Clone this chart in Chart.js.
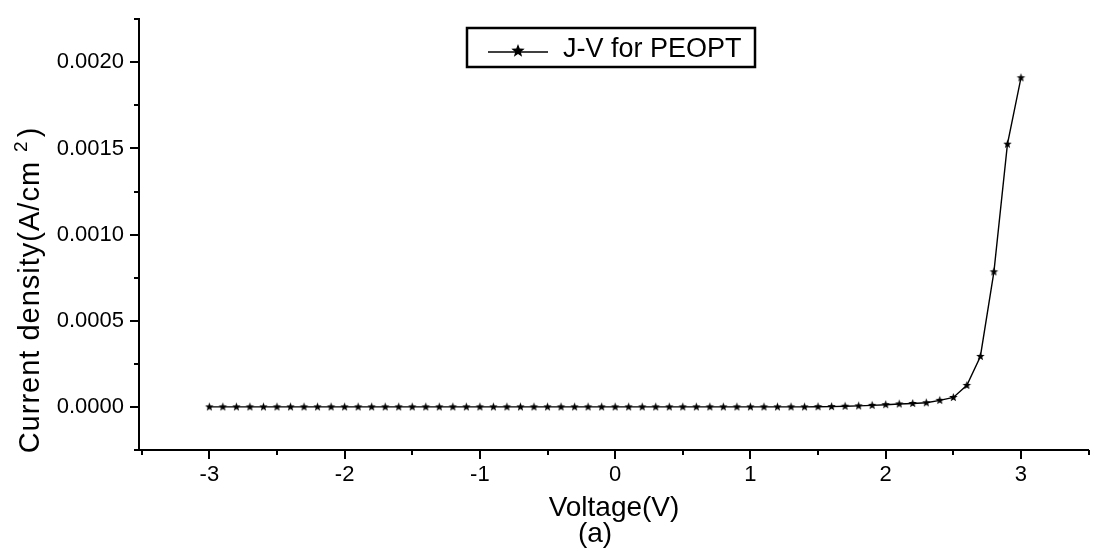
<!DOCTYPE html>
<html lang="en">
  <head>
    <meta charset="UTF-8" />
    <title>J-V for PEOPT</title>
    <script src="https://cdn.jsdelivr.net/npm/chart.js@4"></script>
    <style>
      html,
      body {
        margin: 0;
        padding: 0;
        background: #fff;
      }
      .chart-box {
        position: relative;
        width: 1094px;
        height: 553px;
      }
    </style>
  </head>
  <body>
    <div class="chart-box"><canvas id="jvChart"></canvas></div>
    <script>
      // voltage sweep (V)
      const voltage = [
        -3.0, -2.9, -2.8, -2.7, -2.6, -2.5, -2.4, -2.3, -2.2, -2.1,
        -2.0, -1.9, -1.8, -1.7, -1.6, -1.5, -1.4, -1.3, -1.2, -1.1,
        -1.0, -0.9, -0.8, -0.7, -0.6, -0.5, -0.4, -0.3, -0.2, -0.1,
        0.0, 0.1, 0.2, 0.3, 0.4, 0.5, 0.6, 0.7, 0.8, 0.9,
        1.0, 1.1, 1.2, 1.3, 1.4, 1.5, 1.6, 1.7, 1.8, 1.9,
        2.0, 2.1, 2.2, 2.3, 2.4, 2.5, 2.6, 2.7, 2.8, 2.9,
        3.0,
      ];
      // current density (A/cm^2)
      const current = [
        0, 0, 0, 0, 0, 0, 0, 0, 0, 0,
        0, 0, 0, 0, 0, 0, 0, 0, 0, 0,
        0, 0, 0, 0, 0, 0, 0, 0, 0, 0,
        0, 0, 0, 0, 0, 0, 0, 0, 0, 0,
        0, 0, 0, 0, 0, 0.000001, 0.000002, 0.000004, 0.000006, 0.000009,
        0.000013, 0.000017, 0.00002, 0.000024, 0.000038, 0.000055, 0.000125, 0.000293, 0.000784, 0.001525,
        0.00191,
      ];
      const xTicks = [-3, -2, -1, 0, 1, 2, 3];
      const xMinorTicks = [-3.5, -2.5, -1.5, -0.5, 0.5, 1.5, 2.5, 3.5];
      const yTicks = [0, 0.0005, 0.001, 0.0015, 0.002];
      const yMinorTicks = [-0.00025, 0.00025, 0.00075, 0.00125, 0.00175, 0.00225];

      const FONT = "'Liberation Sans', Arial, sans-serif";

      function makeStar(r) {
        const c = document.createElement("canvas");
        const size = Math.ceil(r * 2 + 2);
        c.width = size;
        c.height = size;
        const g = c.getContext("2d");
        g.translate(size / 2, size / 2);
        g.beginPath();
        for (let i = 0; i < 10; i++) {
          const rad = i % 2 === 0 ? r : r * 0.42;
          const a = -Math.PI / 2 + (i * Math.PI) / 5;
          g.lineTo(rad * Math.cos(a), rad * Math.sin(a));
        }
        g.closePath();
        g.fillStyle = "#000";
        g.fill();
        return c;
      }

      const pointStar = makeStar(4.5);
      const legendStar = makeStar(7);

      // ticks, titles and legend box
      const decorPlugin = {
        id: "decor",
        afterDraw(chart) {
          const ctx = chart.ctx;
          const area = chart.chartArea;
          const xs = chart.scales.x;
          const ys = chart.scales.y;
          ctx.save();
          ctx.strokeStyle = "#000";
          ctx.lineWidth = 2;
          ctx.beginPath();
          xTicks.forEach((v) => {
            const px = Math.round(xs.getPixelForValue(v));
            ctx.moveTo(px, area.bottom);
            ctx.lineTo(px, area.bottom + 9);
          });
          xMinorTicks.forEach((v) => {
            const px = Math.round(xs.getPixelForValue(v));
            ctx.moveTo(px, area.bottom);
            ctx.lineTo(px, area.bottom + 5);
          });
          yTicks.forEach((v) => {
            const py = Math.round(ys.getPixelForValue(v));
            ctx.moveTo(area.left, py);
            ctx.lineTo(area.left - 9, py);
          });
          yMinorTicks.forEach((v) => {
            const py = Math.round(ys.getPixelForValue(v));
            ctx.moveTo(area.left, py);
            ctx.lineTo(area.left - 5, py);
          });
          ctx.stroke();

          // axis titles
          ctx.fillStyle = "#000";
          ctx.textBaseline = "middle";
          ctx.textAlign = "center";
          ctx.font = "28px " + FONT;
          ctx.fillText("Voltage(V)", 614, 508);
          ctx.fillText("(a)", 595, 534);

          ctx.save();
          ctx.translate(29, 290);
          ctx.rotate(-Math.PI / 2);
          ctx.letterSpacing = "1px";
          ctx.textAlign = "left";
          ctx.textBaseline = "alphabetic";
          ctx.font = "29px " + FONT;
          const main = "Current density(A/cm ";
          const w1 = ctx.measureText(main).width;
          ctx.font = "19px " + FONT;
          const w2 = ctx.measureText("2").width + 3;
          ctx.font = "29px " + FONT;
          const w3 = ctx.measureText(")").width;
          const total = w1 + w2 + w3;
          const x0 = -total / 2;
          ctx.fillText(main, x0, 10);
          ctx.font = "19px " + FONT;
          ctx.fillText("2", x0 + w1, -2);
          ctx.font = "29px " + FONT;
          ctx.fillText(")", x0 + w1 + w2, 10);
          ctx.restore();

          // legend box
          ctx.fillStyle = "#fff";
          ctx.fillRect(467, 28, 288, 39);
          ctx.lineWidth = 2.5;
          ctx.strokeRect(467, 28, 288, 39);
          ctx.lineWidth = 1.5;
          ctx.beginPath();
          ctx.moveTo(488, 52);
          ctx.lineTo(548, 52);
          ctx.stroke();
          ctx.drawImage(legendStar, 518 - legendStar.width / 2, 51 - legendStar.height / 2);
          ctx.fillStyle = "#000";
          ctx.textAlign = "left";
          ctx.textBaseline = "alphabetic";
          ctx.font = "27px " + FONT;
          ctx.fillText("J-V for PEOPT", 563, 57);
          ctx.restore();
        },
      };

      const points = voltage.map((v, i) => ({ x: v, y: current[i] }));

      new Chart(document.getElementById("jvChart"), {
        type: "line",
        data: {
          datasets: [
            {
              label: "J-V for PEOPT",
              data: points,
              borderColor: "#000",
              borderWidth: 1.4,
              pointStyle: pointStar,
              pointRadius: 4,
              tension: 0,
              fill: false,
            },
          ],
        },
        options: {
          responsive: true,
          maintainAspectRatio: false,
          animation: false,
          layout: { padding: { top: 10, right: 0, left: 0, bottom: 0 } },
          plugins: {
            legend: { display: false },
            tooltip: { enabled: false },
          },
          scales: {
            x: {
              type: "linear",
              min: -3.52,
              max: 3.5,
              afterFit(s) {
                s.height = 103;
              },
              afterBuildTicks(s) {
                s.ticks = xTicks.map((v) => ({ value: v }));
              },
              grid: {
                drawOnChartArea: false,
                drawTicks: true,
                tickLength: 9,
                color: "rgba(0,0,0,0)",
              },
              border: { display: true, color: "#000", width: 2 },
              ticks: {
                color: "#000",
                font: { family: FONT, size: 22 },
                padding: 3,
                maxRotation: 0,
                autoSkip: false,
              },
            },
            y: {
              min: -0.00025,
              max: 0.00225,
              afterFit(s) {
                s.width = 139;
              },
              afterBuildTicks(s) {
                s.ticks = yTicks.map((v) => ({ value: v }));
              },
              grid: {
                drawOnChartArea: false,
                drawTicks: true,
                tickLength: 9,
                color: "rgba(0,0,0,0)",
              },
              border: { display: true, color: "#000", width: 2 },
              ticks: {
                color: "#000",
                font: { family: FONT, size: 22 },
                padding: 6,
                callback: (v) => v.toFixed(4),
              },
            },
          },
        },
        plugins: [decorPlugin],
      });
    </script>
  </body>
</html>
